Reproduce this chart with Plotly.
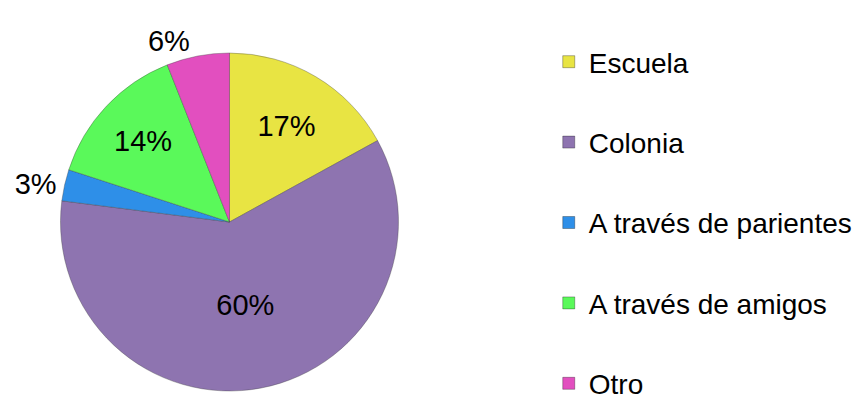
import plotly.graph_objects as go

# ── Data ─────────────────────────────────────────────────────────────────────
labels = ["Escuela", "Colonia", "A través de parientes", "A través de amigos", "Otro"]
values = [17, 60, 3, 14, 6]
colors = ["#E8E443", "#8E74B0", "#2E8FE8", "#5AF95A", "#E24FBF"]
text_pos = ["inside", "inside", "outside", "inside", "outside"]

FONT = "Liberation Sans, Arial, sans-serif"

fig = go.Figure()
fig.add_trace(go.Pie(
    labels=labels, values=values, sort=False, direction="clockwise", rotation=0,
    marker=dict(colors=colors, line=dict(color="rgba(60,60,60,0.35)", width=1)),
    textinfo="percent", texttemplate="%{percent:.0%}",
    textposition=text_pos, insidetextorientation="horizontal",
    textfont=dict(color="black", size=29, family=FONT),
    showlegend=False,
    domain=dict(x=[50 / 864, 390 / 864], y=[1 - 383 / 400, 1 - 45 / 400]),
))

# legend entries (one group each so the spacing can be set)
for i, (lab, col) in enumerate(zip(labels, colors)):
    fig.add_trace(go.Scatter(
        x=[None], y=[None], mode="markers", name=lab, legendgroup=str(i),
        marker=dict(symbol="square", size=12, color=col,
                    line=dict(color="rgba(0,0,0,0.3)", width=1)),
    ))

fig.update_layout(
    width=864, height=400,
    paper_bgcolor="white", plot_bgcolor="white",
    margin=dict(l=0, r=0, t=0, b=0),
    font=dict(family=FONT, color="black", size=28),
    xaxis=dict(visible=False), yaxis=dict(visible=False),
    legend=dict(x=0.625, y=0.8925, xanchor="left", yanchor="top",
                tracegroupgap=41, itemwidth=30, bgcolor="rgba(0,0,0,0)",
                font=dict(size=28, family=FONT, color="black")),
)

fig.write_html("out.html")
